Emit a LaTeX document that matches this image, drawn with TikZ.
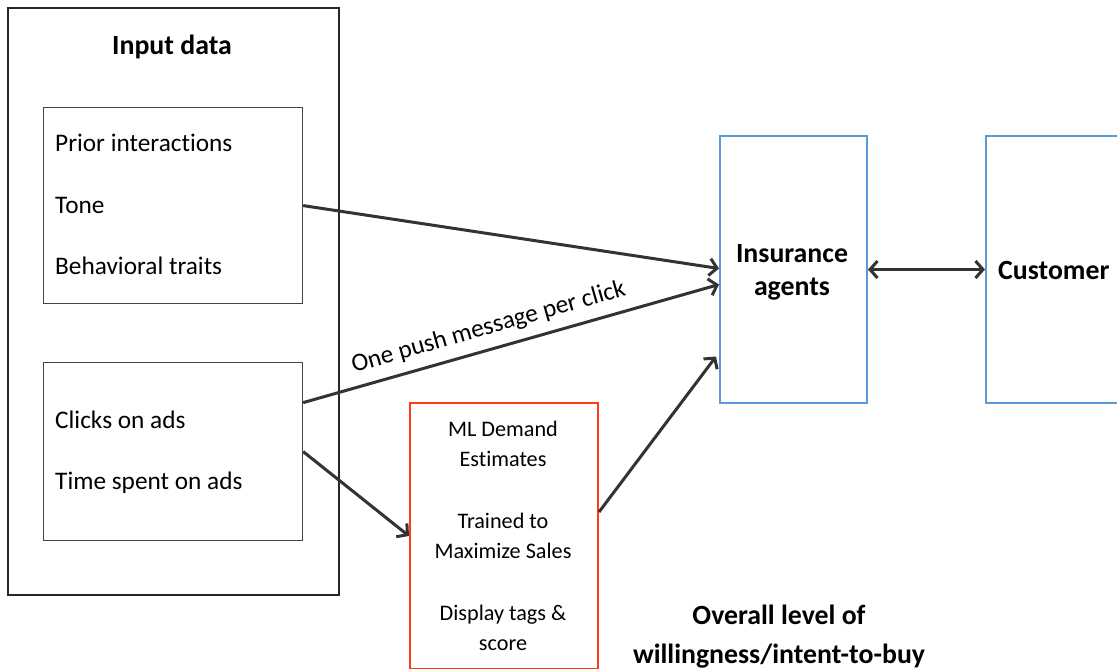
\documentclass[tikz,border=0pt]{standalone}
\usepackage{fontspec}
\setmainfont{Carlito}[Ligatures={NoCommon}]
\usetikzlibrary{arrows.meta}
\definecolor{arrowgray}{HTML}{333333}
\definecolor{boxblue}{HTML}{5B9BD5}
\definecolor{boxred}{HTML}{FF3C14}
\definecolor{innergray}{HTML}{444444}
\tikzset{
  x=1pt, y=-1pt,
  box/.style={draw, anchor=north west, inner sep=0pt, rectangle},
  outerbox/.style={box, draw=black!85, line width=2pt},
  innerbox/.style={box, draw=innergray, line width=1.2pt},
  bluebox/.style={box, draw=boxblue, line width=2pt},
  redbox/.style={box, draw=boxred, line width=2pt},
  txt/.style={font=\fontsize{25.3}{30}\selectfont, inner sep=0pt, anchor=west},
  ctxt/.style={font=\fontsize{22.2}{30}\selectfont, inner sep=0pt, align=center},
  btxt/.style={font=\fontsize{27.8}{33}\selectfont\bfseries, inner sep=0pt, align=center},
  bigtxt/.style={font=\fontsize{27.8}{39}\selectfont\bfseries, inner sep=0pt, align=center},
  conn/.style={draw=arrowgray, line width=3pt, -{Straight Barb[length=7.5pt,width=17pt,line width=3pt]}},
  dconn/.style={draw=arrowgray, line width=3pt, {Straight Barb[length=7.5pt,width=17pt,line width=3pt]}-{Straight Barb[length=7.5pt,width=17pt,line width=3pt]}}
}
\begin{document}
\begin{tikzpicture}
\useasboundingbox (0,0) rectangle (1117,669);
\clip (0,0) rectangle (1117,669);
\fill[white] (0,0) rectangle (1117,669);
% boxes
\node[outerbox, minimum width=331pt, minimum height=587pt] (outer) at (7,7) {};
\node[innerbox, minimum width=259pt, minimum height=196pt] (box1) at (43,107) {};
\node[innerbox, minimum width=259pt, minimum height=178pt] (box2) at (43,362) {};
\node[redbox, minimum width=188pt, minimum height=266pt] (ml) at (409,402) {};
\node[bluebox, minimum width=147pt, minimum height=267pt] (agents) at (719,135) {};
\node[bluebox, minimum width=160pt, minimum height=267pt] (cust) at (985,135) {};
% texts
\node[btxt] (title) at (172,47) {Input data};
\node[txt] (t1) at (55,143) {Prior interactions};
\node[txt] (t2) at (55,205) {Tone};
\node[txt] (t3) at (55,266) {Behavioral traits};
\node[txt] (t4) at (55,420) {Clicks on ads};
\node[txt] (t5) at (55,483) {Time spent on ads};
\node[ctxt] (m1) at (503,444) {ML Demand\\Estimates};
\node[ctxt] (m2) at (503,536) {Trained to\\Maximize Sales};
\node[ctxt] (m3) at (503,628) {Display tags \&\\score};
\node[btxt] (ia) at (792,272) {Insurance\\agents};
\node[btxt, anchor=west] (cu) at (998,270) {Customer};
\node[bigtxt] (ov) at (779,637) {Overall level of\\willingness/intent-to-buy};
% connectors
\draw[conn] (box1.east) -- ([yshift=1pt]agents.west);
\draw[conn] ([yshift=49pt]box2.east) -- node[pos=0.46, sloped, above=9pt, font=\fontsize{25.3}{30}\selectfont, inner sep=0pt] {One push message per click} ([yshift=-15pt]agents.west);
\draw[conn] (box2.east) -- (ml.west);
\draw[conn] ([yshift=24pt]ml.east) -- ([xshift=-3pt,yshift=-87pt]agents.west);
\draw[dconn] (agents.east) -- (cust.west);
\end{tikzpicture}
\end{document}
